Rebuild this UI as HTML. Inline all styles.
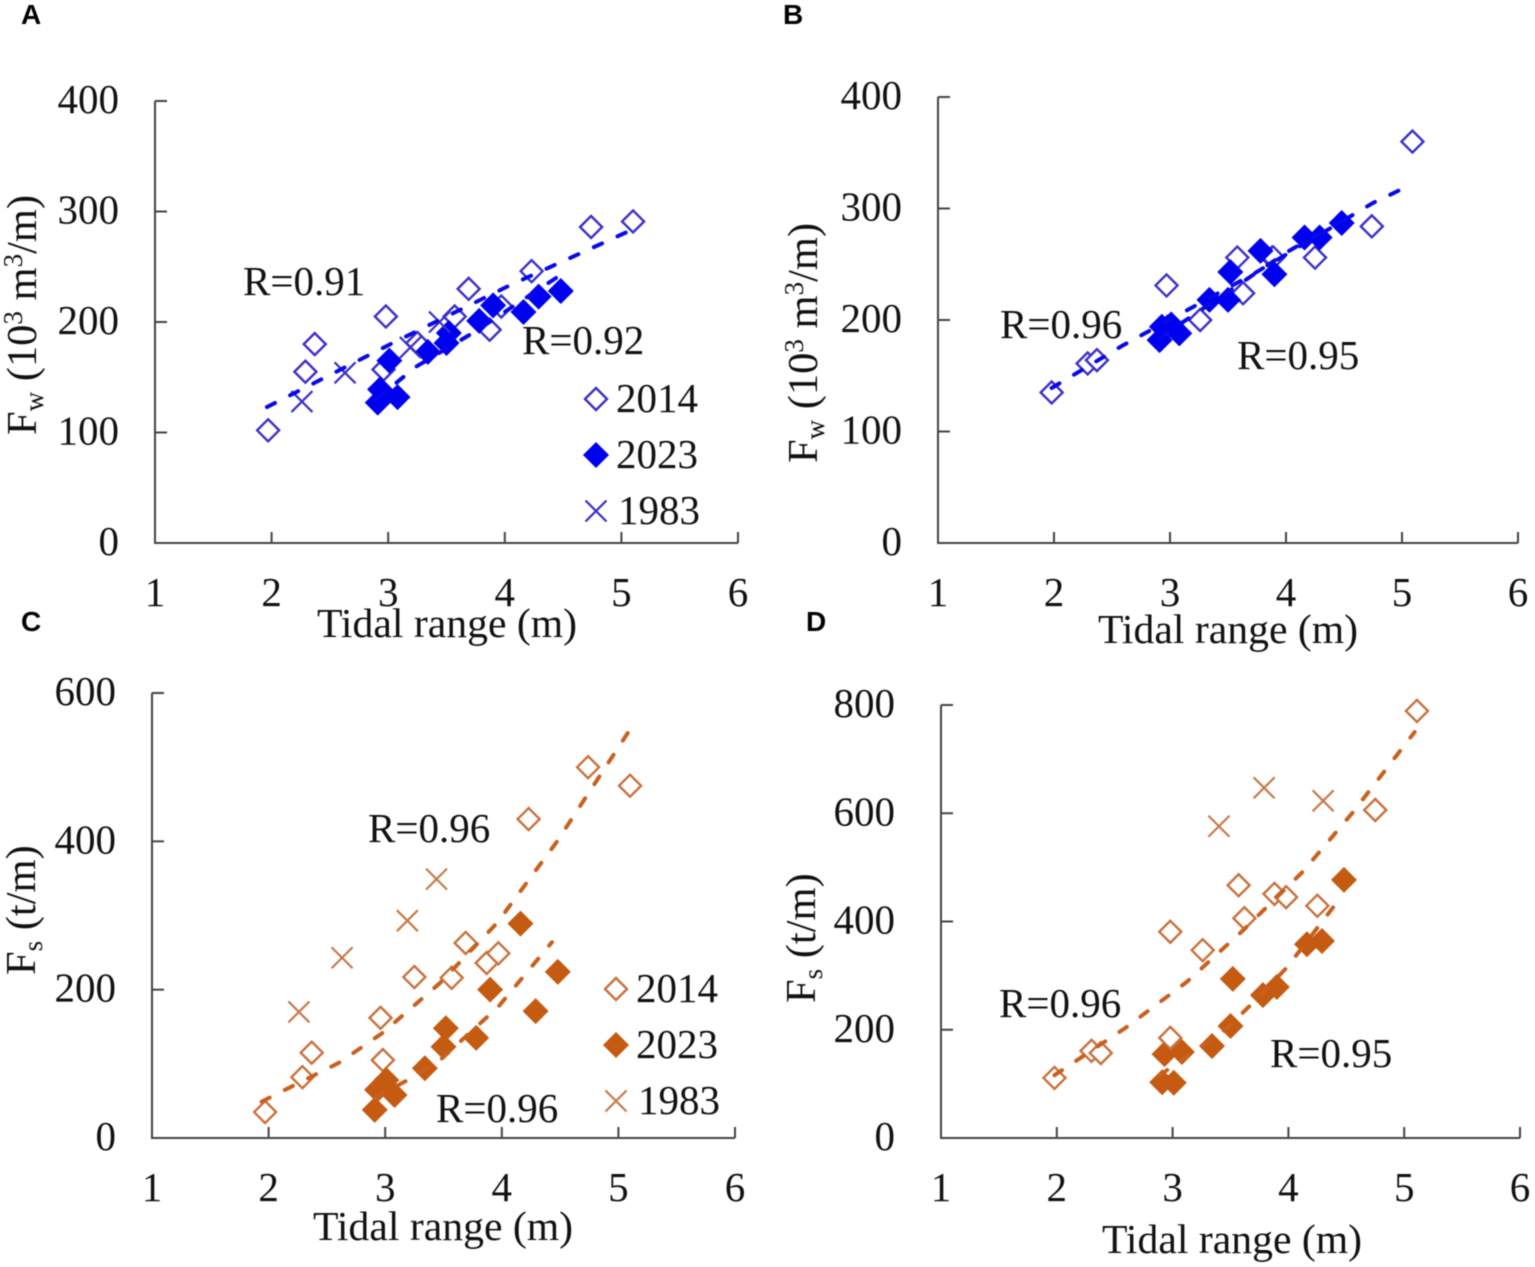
<!DOCTYPE html>
<html lang="en">
<head>
<meta charset="utf-8">
<title>Tidal range vs water and sediment flux</title>
<style>
html,body{margin:0;padding:0;background:#fff;}
svg{display:block;filter:blur(0.4px);}
text{font-family:"Liberation Serif",serif;fill:#111;font-size:41px;}
.letter{font-family:"Liberation Sans",sans-serif;font-weight:bold;font-size:28px;fill:#000;}
.xtitle{font-size:41.7px;}
.ytitle{font-size:42.5px;}
</style>
</head>
<body>
<svg id="figure" xmlns="http://www.w3.org/2000/svg" width="1535" height="1267" viewBox="0 0 1535 1267"></svg>
<script>
// Tidal range values (m)
const tidal2014 = [1.97,2.29,2.37,2.96,2.98,3.25,3.57,3.69,3.87,3.97,4.23,4.74,5.10];
const tidal2014B = [1.98,2.29,2.37,2.97,2.98,3.26,3.58,3.63,3.88,3.89,4.25,4.74,5.09];
const tidal2014D = [1.98,2.30,2.38,2.98,2.98,3.26,3.57,3.62,3.88,3.98,4.25,4.75,5.11];
const tidal2023 = [2.91,2.93,3.01,3.08,3.34,3.50,3.52,3.78,3.90,4.16,4.29,4.48];
const tidal1983 = [2.26,2.63,3.19,3.44];
const tidal1983D = [3.40,3.79,4.30];

// Panel A: Fw
const fwA2014 = [102,155,180,157,205,181,205,230,193,214,246,286,291];
const fwA2023 = [127,139,165,132,173,181,190,201,215,209,223,228];
const fwA1983 = [128,154,177,200];
const trendA2014X = [1.96,3.02,4.02,5.06];
const trendA2014Y = [123,180,232,282];
const trendA2023X = [2.90,3.23,3.74,4.47];
const trendA2023Y = [130,159,191,242];

// Panel B: Fw
const fwB2014 = [135,161,164,231,194,200,256,224,256,256,256,284,360];
const fwB2023 = [182,194,196,188,218,218,243,262,241,274,274,287];
const trendB2014X = [1.98,2.59,3.73,4.75,5.01];
const trendB2014Y = [139,177,242,305,318];
const trendB2023X = [2.91,4.01,4.58];
const trendB2023Y = [184,261,295];

// Panel C: Fs
const fsC2014 = [35,82,115,162,105,217,216,263,236,249,430,500,475];
const fsC2023 = [38,65,78,58,94,123,148,135,200,289,171,224];
const fsC1983 = [170,243,293,349];
const trendC2014X = [1.94,2.61,2.98,3.47,3.96,4.47,5.08];
const trendC2014Y = [49,102,142,209,290,399,546];
const trendC2023X = [2.91,3.19,3.47,3.97,4.43];
const trendC2023Y = [54,78,105,177,264];

// Panel D: Fs
const fsD2014 = [111,161,157,381,185,347,467,406,451,445,429,606,789];
const fsD2023 = [103,155,102,159,170,207,294,264,279,358,364,477];
const fsD1983 = [576,647,623];
const trendD2014X = [1.98,2.59,3.12,3.61,4.12,4.55,5.09];
const trendD2014Y = [116,203,288,384,491,600,750];
const trendD2023X = [2.89,3.47,3.78,3.99,4.40];
const trendD2023Y = [116,203,268,316,430];

// Tick labels
const xTicks = [1,2,3,4,5,6];
const yTicksFw = [0,100,200,300,400];
const yTicksFsC = [0,200,400,600];
const yTicksFsD = [0,200,400,600,800];

const BLUE = {line:'#0808e8', fill:'#0000f0', open:'#3a30c8', cross:'#3a30c8'};
const ORANGE = {line:'#c8601e', fill:'#c55a11', open:'#c8713c', cross:'#c87a4a'};
const NS = 'http://www.w3.org/2000/svg';
const fig = document.getElementById('figure');

function make(parent, tag, attrs, txt){
  const el = document.createElementNS(NS, tag);
  for (const k in attrs) el.setAttribute(k, attrs[k]);
  if (txt !== undefined) el.textContent = txt;
  parent.appendChild(el);
  return el;
}

function openDiamond(g, cx, cy, color){
  const el = make(g, 'polygon', {points:`${cx-11},${cy} ${cx},${cy-11} ${cx+11},${cy} ${cx},${cy+11}`, fill:'#fff', stroke:color, 'stroke-width':2.4});
  
  
}
function filledDiamond(g, cx, cy, color){
  const el = make(g, 'polygon', {points:`${cx-13},${cy} ${cx},${cy-13} ${cx+13},${cy} ${cx},${cy+13}`, fill:color});
  
  
}
function crossMark(g, cx, cy, color){
  const el = make(g, 'path', {d:`M${cx-10.5} ${cy-10.5}L${cx+10.5} ${cy+10.5}M${cx-10.5} ${cy+10.5}L${cx+10.5} ${cy-10.5}`, fill:'none', stroke:color, 'stroke-width':2.2});
  
  
}

function drawPanel(p){
  const g = make(fig, 'g', {});
  
  
  const sx = v => p.x0 + (v - 1) * (p.x1 - p.x0) / 5;
  const sy = v => p.y0 - v * (p.y0 - p.y1) / p.yMax;

  const letter = make(g, 'text', {x:p.lx, y:p.ly, class:'letter'}, p.letter);
  
  

  // axes
  const axis = make(g, 'path', {d:`M${p.x0} ${p.y1}V${p.y0}H${p.x1}`, fill:'none', stroke:'#444', 'stroke-width':2});
  
  
  xTicks.forEach(t => {
    const tick = make(g, 'line', {x1:sx(t), x2:sx(t), y1:p.y0, y2:p.y0-11, stroke:'#444', 'stroke-width':2});
    
    
    const lab = make(g, 'text', {x:sx(t), y:p.xLabY, 'text-anchor':'middle'}, String(t));
    
    
  });
  p.yTicks.forEach(t => {
    const tick = make(g, 'line', {x1:p.x0, x2:p.x0+12, y1:sy(t), y2:sy(t), stroke:'#444', 'stroke-width':2});
    
    
    const lab = make(g, 'text', {x:p.yLabX, y:sy(t)+12, 'text-anchor':'end'}, String(t));
    
    
  });

  // titles
  const xt = make(g, 'text', {x:p.xTitleX, y:p.xTitleY, 'text-anchor':'middle', class:'xtitle'}, 'Tidal range (m)');
  
  
  const yt = make(g, 'text', {transform:`translate(${p.yTitleX} ${p.yTitleY}) rotate(-90)`, class:'ytitle'});
  
  
  make(yt, 'tspan', {}, 'F');
  make(yt, 'tspan', {'font-size':27, dy:7}, p.sub);
  if (p.sub === 'w') {
    make(yt, 'tspan', {dy:-7}, ' (10');
    make(yt, 'tspan', {'font-size':27, dy:-14}, '3');
    make(yt, 'tspan', {dy:14}, ' m');
    make(yt, 'tspan', {'font-size':27, dy:-14}, '3');
    make(yt, 'tspan', {dy:14}, '/m)');
  } else {
    make(yt, 'tspan', {dy:-7}, ' (t/m)');
  }

  // marks
  const c = p.color;
  const draw2014 = () => p.open.forEach((v,i) => openDiamond(g, sx(p.openX[i]), sy(v), c.open));
  const draw2023 = () => p.filled.forEach((v,i) => filledDiamond(g, sx(tidal2023[i]), sy(v), c.fill));
  if (p.filledFirst) { draw2023(); draw2014(); } else { draw2014(); draw2023(); }
  p.cross.forEach((v,i) => crossMark(g, sx(p.crossX[i]), sy(v), c.cross));

  [[p.t14x,p.t14y,'trend-2014'],[p.t23x,p.t23y,'trend-2023']].forEach(t => {
    const pts = t[0].map((x,i) => sx(x)+','+sy(t[1][i])).join(' ');
    const line = make(g, 'polyline', {points:pts, fill:'none', stroke:c.line, 'stroke-width':4, 'stroke-linecap':'round', 'stroke-linejoin':'round', 'stroke-dasharray':'9 17'});
    
    
  });

  // R labels
  p.rLabels.forEach(r => {
    const el = make(g, 'text', {x:r[0], y:r[1]}, r[2]);
    
    
  });

  // legend
  if (p.legend) {
    const L = p.legend;
    openDiamond(g, L.mx, L.my, c.open);
    filledDiamond(g, L.mx, L.my+56, c.fill);
    crossMark(g, L.mx, L.my+112, c.cross);
    [['2014',L.tx,0],['2023',L.tx,56],['1983',L.tx+2,112]].forEach(e => {
      const el = make(g, 'text', {x:e[1], y:L.my+13+e[2]}, e[0]);
      
      
    });
  }
}

drawPanel({name:'panel-a', letter:'A', lx:21, ly:24, x0:155, x1:738, y0:543, y1:101, yMax:400, yTicks:yTicksFw,
  xLabY:606, yLabX:119, xTitleX:447, xTitleY:637, yTitleX:36, yTitleY:435, sub:'w', color:BLUE,
  open:fwA2014, openX:tidal2014, filled:fwA2023, cross:fwA1983, crossX:tidal1983,
  t14x:trendA2014X, t14y:trendA2014Y, t23x:trendA2023X, t23y:trendA2023Y,
  rLabels:[[243,295,'R=0.91'],[522,354,'R=0.92']], legend:{mx:596, my:399, tx:616}});
drawPanel({name:'panel-b', letter:'B', lx:783, ly:24, x0:938, x1:1518, y0:543, y1:97, yMax:400, yTicks:yTicksFw,
  xLabY:606, yLabX:902, xTitleX:1228, xTitleY:643, yTitleX:817, yTitleY:463, sub:'w', color:BLUE,
  open:fwB2014, openX:tidal2014B, filled:fwB2023, cross:[], crossX:[],
  t14x:trendB2014X, t14y:trendB2014Y, t23x:trendB2023X, t23y:trendB2023Y,
  rLabels:[[1000,338,'R=0.96'],[1237,369,'R=0.95']]});
drawPanel({name:'panel-c', letter:'C', lx:21, ly:631, x0:152, x1:735, y0:1138, y1:693, yMax:600, yTicks:yTicksFsC,
  xLabY:1201, yLabX:116, xTitleX:443, xTitleY:1240, yTitleX:35, yTitleY:975, sub:'s', color:ORANGE,
  open:fsC2014, openX:tidal2014, filled:fsC2023, cross:fsC1983, crossX:tidal1983,
  t14x:trendC2014X, t14y:trendC2014Y, t23x:trendC2023X, t23y:trendC2023Y,
  rLabels:[[368,842,'R=0.96'],[436,1122,'R=0.96']], legend:{mx:616, my:989, tx:636}});
drawPanel({name:'panel-d', letter:'D', lx:806, ly:631, x0:941, x1:1520, y0:1138, y1:705, yMax:800, yTicks:yTicksFsD,
  xLabY:1201, yLabX:895, xTitleX:1232, xTitleY:1253, yTitleX:815, yTitleY:1003, sub:'s', color:ORANGE,
  filledFirst:true, open:fsD2014, openX:tidal2014D, filled:fsD2023, cross:fsD1983, crossX:tidal1983D,
  t14x:trendD2014X, t14y:trendD2014Y, t23x:trendD2023X, t23y:trendD2023Y,
  rLabels:[[999,1017,'R=0.96'],[1270,1067,'R=0.95']]});
</script>
</body>
</html>
